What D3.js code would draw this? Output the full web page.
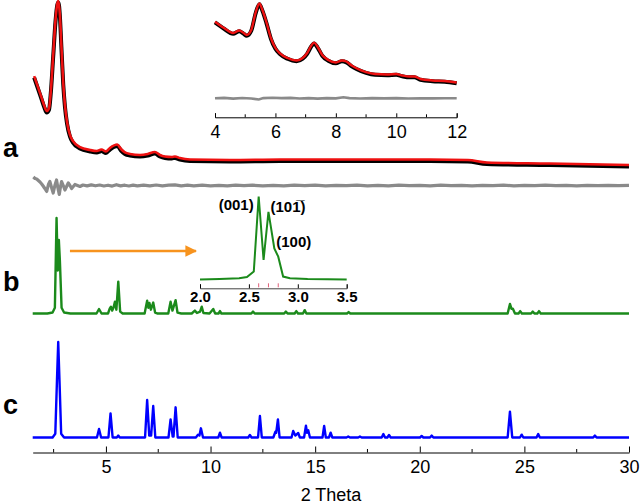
<!DOCTYPE html>
<html><head><meta charset="utf-8">
<script src="https://cdn.jsdelivr.net/npm/d3@7"></script>
<style>body{margin:0;background:#fff}svg{display:block;font-family:"Liberation Sans",Arial,Helvetica,sans-serif}</style>
</head><body>
<svg id="chart" width="641" height="504"></svg>
<script>
// ---------- data ----------
const mainTicks = [5,10,15,20,25,30];
const mainMinor = [2.5,7.5,12.5,17.5,22.5,27.5];
const insetATicks = [4,6,8,10,12];
const insetAMinor = [5,7,9,11];
const insetBTicks = [2.0,2.5,3.0,3.5];
const panelLabels = ["a","b","c"];
const hklPos = [2.60,2.70,2.80];
const hklText = ["(001)","(101\u0305)","(100)"];

// a: experimental / fit (relative intensity)
const aFit = [[1.57,54.5],[1.85,44.2],[2.04,37],[2.17,33.3],[2.28,35],[2.37,46],[2.48,67.3],[2.59,88.5],[2.68,98.8],[2.73,100],[2.80,91.5],[2.87,73.3],[2.96,50.3],[3.04,37],[3.14,26.7],[3.28,18.8],[3.42,15.2],[3.76,11.5],[4.24,9.7],[4.57,9.1],[4.71,9.7],[4.79,10],[5.0,8.8],[5.19,10.9],[5.54,13],[5.72,10.3],[5.91,8.2],[6.15,7.3],[6.63,6.7],[7.0,7.3],[7.34,8.5],[7.58,6.7],[7.82,5.8],[8.15,5.5],[8.3,5.8],[8.54,4.8],[9.02,3.9],[10.93,3.6],[13.32,3.9],[15.7,3.9],[18.1,3.9],[20.5,3.9],[22.3,3.6],[23.2,2.1],[26.2,1.5],[30,0.6]];
// a: difference curve
const aDiff = [[1.53,8.5],[1.61,7],[1.69,6.5],[1.77,5],[1.85,3.5],[1.93,1.5],[2.0,-0.5],[2.08,-3],[2.17,-6],[2.25,1],[2.32,4],[2.40,-2],[2.48,-7.5],[2.56,0],[2.64,5.5],[2.70,-2],[2.77,-9],[2.83,-1],[2.88,4],[2.96,0],[3.04,-4.5],[3.12,-1],[3.2,2.5],[3.28,0],[3.36,-3],[3.44,-1],[3.52,1],[3.64,0],[3.76,-1],[3.9,0.5],[4.1,-0.4],[4.3,0.6],[4.5,-0.3],[4.7,0.5],[4.9,-0.5],[5.1,0.3],[5.3,-0.6],[5.5,0.8],[5.7,-0.4],[5.9,0.3],[6.1,-0.5],[6.3,0.4],[6.5,-0.3],[6.8,0.4],[7.1,-0.4],[7.4,0.5],[7.7,-0.3],[8.0,0.3],[8.3,0.6],[8.6,-0.4],[8.9,0.3],[9.2,-0.3],[9.6,0.3],[10.0,-0.3],[10.4,0.2],[10.8,-0.3],[11.2,0.3],[11.6,-0.2],[12.0,0.3],[12.5,-0.3],[13.0,0.2],[13.5,-0.3],[14.0,0.3],[14.5,-0.2],[15.0,0.3],[15.5,-0.3],[16.0,0.2],[16.5,-0.2],[17.0,0.3],[17.5,-0.3],[18.0,0.2],[18.5,-0.3],[19.0,0.3],[19.5,-0.2],[20.0,0.2],[20.5,-0.3],[21.0,0.3],[21.5,-0.2],[22.0,0.2],[22.5,-0.3],[23.0,0.2],[23.5,-0.2],[24.0,0.3],[24.5,-0.3],[25.0,0.2],[25.5,-0.2],[26.0,0.3],[26.5,-0.2],[27.0,0.2],[27.5,-0.3],[28.0,0.2],[28.5,-0.2],[29.0,0.2],[29.5,-0.2],[30.0,0.1]];
// inset of a (4-12 deg)
const insetFit = [[4.0,76],[4.3,68.3],[4.6,62.2],[4.8,65.2],[4.95,62.2],[5.05,59.8],[5.2,65.9],[5.35,87.8],[5.47,98.2],[5.57,90.2],[5.7,75.6],[5.85,56.1],[6.0,43.9],[6.15,37.4],[6.4,31.7],[6.7,28.7],[6.9,31.7],[7.05,37.8],[7.2,47.6],[7.28,50.4],[7.4,45.1],[7.55,35.4],[7.75,29.3],[8.0,26.2],[8.2,28.7],[8.35,27.4],[8.5,23.2],[8.7,18.9],[9.0,14.6],[9.3,12.2],[9.7,11.6],[10.0,12.2],[10.2,10.4],[10.45,9.1],[10.6,9.1],[10.8,6.1],[11.2,4.3],[11.6,3.7],[12.0,1.8]];
const insetDiff = [[4.0,0],[4.3,0.4],[4.6,-0.3],[4.9,0.3],[5.2,-0.2],[5.45,-1.2],[5.6,0.2],[5.9,0.6],[6.2,0.2],[6.5,0.4],[6.8,-0.2],[7.1,0.2],[7.4,-0.3],[7.7,0.2],[8.0,-0.1],[8.25,1.0],[8.45,0.2],[8.8,-0.2],[9.2,0.2],[9.6,-0.1],[10.0,0.2],[10.4,-0.2],[10.8,0.1],[11.2,-0.1],[11.6,0.1],[12.0,0]];
// b: simulated pattern
const bPattern = [[1.5,0],[2.2,0],[2.45,1],[2.56,6],[2.64,100],[2.70,45],[2.75,77],[2.80,55],[2.88,6],[3.0,1],[3.3,0],[4.55,0],[4.67,4.7],[4.79,0],[5.1,0],[5.18,5],[5.24,7.1],[5.30,3],[5.36,6],[5.43,12.4],[5.50,4],[5.59,33.3],[5.68,2],[5.8,0],[6.85,0],[6.92,8],[6.97,13.4],[7.03,6],[7.08,11],[7.15,4],[7.26,11.5],[7.35,1],[7.45,0],[7.98,0],[8.09,12.4],[8.18,3],[8.33,14],[8.42,1],[8.6,0],[9.1,0],[9.25,3],[9.35,0.5],[9.50,2],[9.58,7.1],[9.66,0.5],[9.95,0],[10.13,4.7],[10.22,0],[10.38,0],[10.45,2.5],[10.52,0],[11.95,0],[12.03,2],[12.11,0],[13.52,0],[13.6,2],[13.68,0],[14.02,0],[14.1,2.5],[14.18,0],[14.42,0],[14.5,3.5],[14.58,0],[16.52,0],[16.6,1.5],[16.68,0],[24.2,0],[24.31,10],[24.38,5],[24.45,5],[24.55,0],[24.72,0],[24.8,2.5],[24.88,0],[25.32,0],[25.4,2],[25.48,0],[25.62,0],[25.7,2.5],[25.78,0],[30,0]];
const bInset = [[2.0,0],[2.2,0.5],[2.4,1.5],[2.48,3],[2.55,9.5],[2.60,100],[2.65,23.5],[2.70,81.5],[2.76,37.5],[2.80,27.5],[2.85,3.5],[2.92,1.5],[3.1,0.5],[3.5,0]];
// c: reference pattern
const cPattern = [[1.5,0],[2.45,0],[2.58,4],[2.66,60],[2.72,100],[2.78,60],[2.86,4],[3.0,0],[4.57,0],[4.67,8.9],[4.77,0],[5.12,0],[5.22,25.3],[5.32,0],[5.52,0],[5.59,2],[5.66,0],[6.87,0],[6.97,39.3],[7.07,2],[7.16,2],[7.26,33],[7.36,0],[7.99,0],[8.09,19],[8.19,1],[8.23,1],[8.33,31.6],[8.43,0],[9.3,0],[9.4,3],[9.47,2],[9.54,9.6],[9.64,0],[10.37,0],[10.45,5],[10.53,0],[11.8,0],[11.88,2.6],[11.96,0],[12.27,0],[12.36,22.5],[12.45,0],[13.0,0],[13.1,6],[13.14,5],[13.22,19],[13.3,0],[13.87,0],[13.95,6.8],[14.05,2],[14.19,4.7],[14.27,0],[14.47,0],[14.56,12.4],[14.61,5],[14.67,7.5],[14.75,0],[15.35,0],[15.43,12],[15.51,0],[15.66,0],[15.74,5],[15.82,0],[16.5,0],[16.58,1],[16.66,0],[17.06,0],[17.14,1],[17.22,0],[18.18,0],[18.26,3.7],[18.34,0],[18.45,0],[18.53,2.6],[18.61,0],[20.01,0],[20.09,1.6],[20.17,0],[20.49,0],[20.57,2],[20.65,0],[24.2,0],[24.31,27],[24.42,0],[24.79,0],[24.87,3],[24.95,0],[25.58,0],[25.66,3.7],[25.74,0],[28.29,0],[28.37,2],[28.45,0],[30,0]];

// ---------- layout ----------
const svg = d3.select("#chart");
const x = d3.scaleLinear().domain([1.5,30]).range([32.7,629]);
const axisY = 452.5;
const yA = d3.scaleLinear().domain([0,100]).range([166,1]);
const yAd = d3.scaleLinear().domain([-10,10]).range([195.5,175.5]);
const yB = d3.scaleLinear().domain([0,100]).range([313.5,218]);
const yC = d3.scaleLinear().domain([0,100]).range([437.5,342]);
const xi = d3.scaleLinear().domain([4,12]).range([215,456.7]);
const yi = d3.scaleLinear().domain([0,100]).range([84,2]);
const yid = d3.scaleLinear().domain([-10,10]).range([108.3,88.3]);
const xb = d3.scaleLinear().domain([2.0,3.5]).range([200,346.7]);
const yb = d3.scaleLinear().domain([0,100]).range([279.5,196.5]);

function path(data, xs, ys, curve){
  return d3.line().x(d=>xs(d[0])).y(d=>ys(d[1])).curve(curve||d3.curveLinear)(data);
}
const red="#ee1111", blk="#000", gray="#8a8a8a", green="#1b8a1b", blue="#0000ff", orange="#f7931e";

// series a
svg.append("path").attr("d",path(aFit,x,yA,d3.curveMonotoneX)).attr("transform","translate(0,1.5)").attr("fill","none").attr("stroke",blk).attr("stroke-width",4);
svg.append("path").attr("d",path(aFit,x,yA,d3.curveMonotoneX)).attr("fill","none").attr("stroke",red).attr("stroke-width",2.6);
svg.append("path").attr("d",path(aDiff,x,yAd)).attr("fill","none").attr("stroke",gray).attr("stroke-width",3.2).attr("stroke-linejoin","round");

// inset a
svg.append("path").attr("d",path(insetFit,xi,yi,d3.curveMonotoneX)).attr("transform","translate(0,0.8)").attr("fill","none").attr("stroke",blk).attr("stroke-width",4);
svg.append("path").attr("d",path(insetFit,xi,yi,d3.curveMonotoneX)).attr("fill","none").attr("stroke",red).attr("stroke-width",2.4);
svg.append("path").attr("d",path(insetDiff,xi,yid)).attr("fill","none").attr("stroke",gray).attr("stroke-width",2.6);
const gIa = svg.append("g").attr("transform","translate(0,117.3)");
gIa.call(d3.axisBottom(xi).tickValues(insetATicks).tickSize(-4).tickPadding(8).tickFormat(d3.format("d")));
gIa.selectAll(".minor").data(insetAMinor).join("line").attr("class","minor").attr("x1",d=>xi(d)).attr("x2",d=>xi(d)).attr("y1",0).attr("y2",-3).attr("stroke","#000");
gIa.selectAll("text").attr("font-size",18).attr("font-family","Liberation Sans, Arial, sans-serif").attr("fill","#000");

// series b
svg.append("path").attr("d",path(bPattern,x,yB)).attr("fill","none").attr("stroke",green).attr("stroke-width",2.4).attr("stroke-linejoin","round");
// inset b
svg.append("path").attr("d",path(bInset,xb,yb)).attr("fill","none").attr("stroke",green).attr("stroke-width",2);
const gIb = svg.append("g").attr("transform","translate(0,288.3)");
gIb.call(d3.axisBottom(xb).tickValues(insetBTicks).tickSize(-4).tickPadding(3).tickFormat(d3.format(".1f")));
gIb.select(".domain").attr("stroke","#444");
gIb.selectAll("text").attr("font-size",15).attr("font-weight","bold").attr("font-family","Liberation Sans, Arial, sans-serif").attr("fill","#000");
gIb.selectAll(".hkl").data(hklPos).join("line").attr("class","hkl").attr("x1",d=>xb(d)).attr("x2",d=>xb(d)).attr("y1",-1).attr("y2",-5).attr("stroke","#e0607a").attr("stroke-width",1);
// hkl labels: [anchor 2theta, anchor intensity, text-anchor, dx, dy]
const hklAnchor = [[2.60,100,"end",-5,13],[2.70,100,"start",2,15],[2.80,27.5,"start",-2,-9.5]];
svg.selectAll(".hkltext").data(hklText).join("text").attr("class","hkltext")
  .attr("x",(d,i)=>xb(hklAnchor[i][0])+hklAnchor[i][3])
  .attr("y",(d,i)=>yb(hklAnchor[i][1])+hklAnchor[i][4])
  .attr("text-anchor",(d,i)=>hklAnchor[i][2])
  .attr("font-size",15).attr("font-weight","bold").text(d=>d);
// arrow
const defs = svg.append("defs");
defs.append("marker").attr("id","ah").attr("viewBox","0 0 10 10").attr("refX",9).attr("refY",5)
  .attr("markerWidth",4.5).attr("markerHeight",4.5).attr("orient","auto").attr("markerUnits","strokeWidth")
  .append("path").attr("d","M0,0 L10,5 L0,10 z").attr("fill",orange);
svg.append("line").attr("x1",x(3.28)).attr("x2",x(9.3)).attr("y1",251).attr("y2",251)
  .attr("stroke",orange).attr("stroke-width",2.6).attr("marker-end","url(#ah)");

// series c
svg.append("path").attr("d",path(cPattern,x,yC)).attr("fill","none").attr("stroke",blue).attr("stroke-width",2.4).attr("stroke-linejoin","round");

// main axis
const gx = svg.append("g").attr("transform",`translate(0,${axisY})`);
gx.call(d3.axisBottom(x).tickValues(mainTicks).tickSize(-6).tickPadding(8).tickSizeOuter(0));
gx.selectAll(".minor").data(mainMinor).join("line").attr("class","minor").attr("x1",d=>x(d)).attr("x2",d=>x(d)).attr("y1",0).attr("y2",-3.5).attr("stroke","#000");
gx.selectAll("text").attr("font-size",18).attr("font-family","Liberation Sans, Arial, sans-serif").attr("fill","#000");
svg.append("text").attr("x",331).attr("y",501).attr("text-anchor","middle").attr("font-size",18).text("2 Theta");

// panel labels
const labelY = [yA(0)-9, yB(0)-23, yC(0)-24];
svg.selectAll(".plab").data(panelLabels).join("text").attr("class","plab").attr("x",3).attr("y",(d,i)=>labelY[i])
  .attr("font-size",27).attr("font-weight","bold").text(d=>d);
</script>
</body></html>
